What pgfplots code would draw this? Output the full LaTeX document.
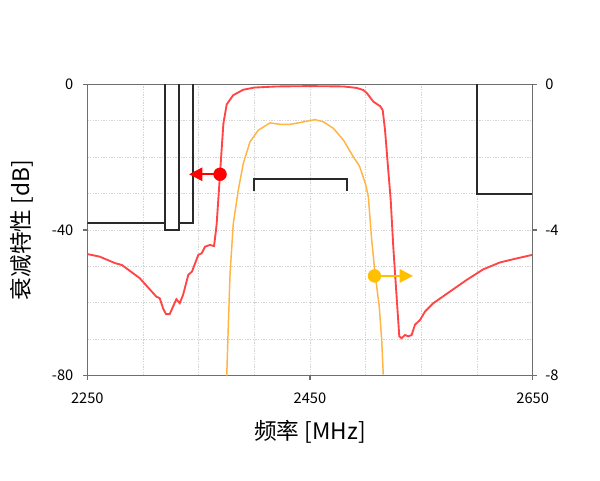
\documentclass[border=0pt]{standalone}
\usepackage{fontspec}
\setmainfont{Noto Sans CJK SC}
\usepackage{pgfplots}
\pgfplotsset{compat=1.18}
\usetikzlibrary{arrows.meta}

\definecolor{attred}{HTML}{FF4545}
\definecolor{dotred}{HTML}{FF0000}
\definecolor{ilorange}{HTML}{FFB444}
\definecolor{dotorange}{HTML}{FFC000}
\definecolor{framegray}{HTML}{6E6E6E}
\definecolor{gridgray}{HTML}{D2D2D2}
\definecolor{maskblack}{HTML}{2A2A2A}

\begin{document}
\begin{tikzpicture}
\path[use as bounding box] (-65.5pt,-78.2pt) rectangle (384.5pt,281.8pt);

% attenuation, left axis
\begin{axis}[
    scale only axis,
    width=334pt, height=218.6pt,
    xmin=2250, xmax=2650, ymin=-80, ymax=0,
    xtick={2250,2450,2650},
    minor xtick={2300,2350,2400,2500,2550,2600},
    ytick={-80,-40,0},
    minor ytick={-70,-60,-50,-30,-20,-10},
    xtick pos=lower, ytick pos=left,
    grid=both,
    grid style={gridgray, line width=0.6pt, dash pattern=on 1pt off 1pt},
    minor grid style={gridgray, line width=0.6pt, dash pattern=on 1pt off 1pt},
    axis line style={framegray, line width=1.1pt},
    tick style={framegray, line width=0.8pt},
    tick align=outside,
    major tick length=3pt, minor tick length=0pt,
    ticklabel style={font=\fontsize{11}{13}\selectfont},
    /pgf/number format/assume math mode=true,
    /pgf/number format/1000 sep={},
    xticklabel style={yshift=-6pt},
    yticklabel style={xshift=-4pt},
    xlabel={频率 [MHz]},
    ylabel={衰减特性 [dB]},
    label style={font=\fontsize{17}{20}\selectfont},
    xlabel style={at={(axis description cs:0.5,-0.192)}, anchor=center},
    ylabel style={at={(axis description cs:-0.1466,0.5)}, anchor=center, rotate=0},
]
\addplot[maskblack, line width=1.5pt] coordinates {(2250,-38) (2320,-38)};
\addplot[maskblack, line width=1.5pt] coordinates {(2320,0) (2320,-40) (2332.5,-40) (2332.5,0)};
\addplot[maskblack, line width=1.5pt] coordinates {(2332.5,-38) (2345,-38) (2345,0)};
\addplot[maskblack, line width=1.5pt] coordinates {(2600,0) (2600,-30) (2650,-30)};
\addplot[maskblack, line width=1.5pt] coordinates {(2400,-29.3) (2400,-26) (2483.5,-26) (2483.5,-29.3)};

\addplot[attred, line width=1.4pt] table {
2250 -46.6
2261 -47.3
2275 -49.1
2281 -49.6
2297 -53.2
2312 -58.3
2315 -58.7
2318 -61.5
2320.7 -63.1
2324 -63.1
2327 -61.0
2330 -59.0
2333 -60.1
2336 -57.8
2340.7 -52.3
2344 -51.4
2349.7 -46.8
2352.7 -46.4
2355.7 -44.6
2360 -44.1
2363.8 -44.4
2365.6 -40.0
2366.2 -38.2
2369.2 -24.5
2372.2 -10.8
2375.2 -5.5
2381 -3.0
2390 -1.5
2400 -0.9
2420 -0.6
2450 -0.5
2480 -0.6
2492 -1.0
2498 -1.6
2501 -2.4
2507 -4.8
2513 -6.0
2515.3 -7.1
2517.4 -12.6
2520.3 -23.6
2522.5 -31.8
2524.8 -44.6
2527.8 -58.3
2530.2 -69.2
2532.3 -69.7
2535.3 -68.8
2538.3 -69.2
2541.3 -68.8
2544.3 -66.0
2548.8 -64.7
2553.5 -62.3
2560.7 -60.1
2575.7 -56.9
2590.7 -53.7
2605.6 -50.8
2620.6 -48.9
2635.6 -47.8
2650 -46.8
};

\addplot[dotred, line width=1.5pt, -{Triangle[length=10pt, width=10pt]}] coordinates {(2369.2,-24.7) (2341.4,-24.7)};
\addplot[dotred, only marks, mark=*, mark size=4.8pt] coordinates {(2369.2,-24.7)};
\end{axis}

% insertion loss, right axis
\begin{axis}[
    scale only axis,
    width=334pt, height=218.6pt,
    xmin=2250, xmax=2650, ymin=-8, ymax=0,
    axis x line=none,
    axis y line*=right,
    ytick={-8,-4,0},
    axis line style={framegray, line width=1.1pt},
    tick style={framegray, line width=0.8pt},
    tick align=outside,
    major tick length=3pt,
    ticklabel style={font=\fontsize{11}{13}\selectfont},
    /pgf/number format/assume math mode=true,
    yticklabel style={xshift=3pt},
]
\addplot[ilorange, line width=1.1pt] table {
2375.2 -8.0
2376.7 -6.56
2378.2 -5.19
2381.1 -3.82
2385.6 -2.90
2390.1 -2.17
2396.1 -1.58
2403.6 -1.26
2414.1 -1.06
2423.1 -1.10
2432.1 -1.10
2441.1 -1.05
2454.5 -0.97
2462 -1.03
2471 -1.21
2480 -1.53
2488.9 -1.99
2494.5 -2.25
2500 -2.75
2502.4 -3.09
2505.4 -4.27
2508.4 -5.19
2512.2 -6.10
2514.4 -7.01
2515.8 -7.97
};

\addplot[dotorange, line width=1.5pt, -{Triangle[length=10pt, width=10pt]}] coordinates {(2507.9,-5.26) (2542.5,-5.26)};
\addplot[dotorange, only marks, mark=*, mark size=4.8pt] coordinates {(2507.9,-5.26)};
\end{axis}
\end{tikzpicture}
\end{document}
